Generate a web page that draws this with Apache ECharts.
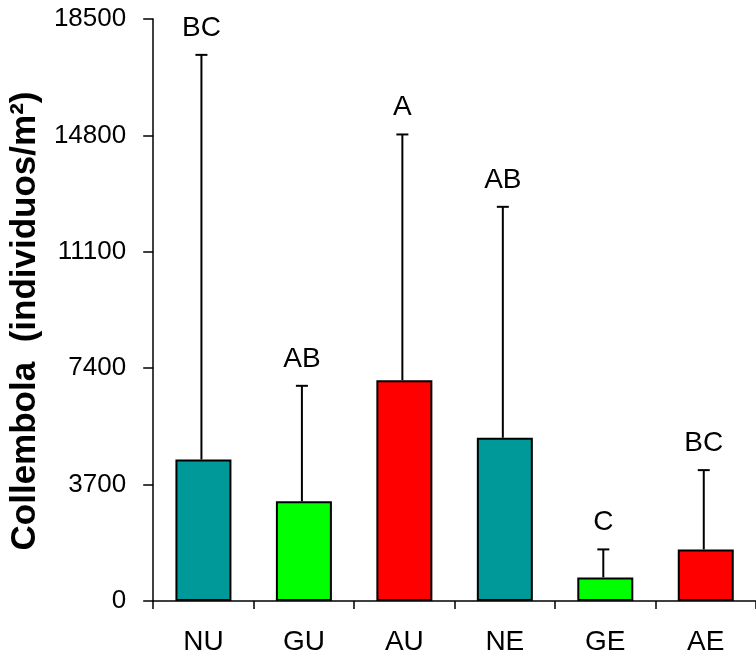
<!DOCTYPE html>
<html>
<head>
<meta charset="utf-8">
<script src="https://cdn.jsdelivr.net/npm/echarts@6/dist/echarts.min.js"></script>
<style>
  html, body { margin: 0; padding: 0; background: #fff; }
  #chart { width: 756px; height: 659px; }
</style>
</head>
<body>
<div id="chart"></div>
<script>
// categorias y valores
var categories = ['NU', 'GU', 'AU', 'NE', 'GE', 'AE'];
var means = [4500, 3170, 7020, 5190, 750, 1640];
var errTops = [17360, 6840, 14830, 12530, 1640, 4160];
var letters = ['BC', 'AB', 'A', 'AB', 'C', 'BC'];
var barColors = ['#009999', '#00FF00', '#FF0000', '#009999', '#00FF00', '#FF0000'];
var yTicks = [0, 3700, 7400, 11100, 14800, 18500];

var myChart = echarts.init(document.getElementById('chart'));
var font = '"Liberation Sans", Arial, sans-serif';

var option = {
    animation: false,
    grid: {
        left: 153,
        right: -9,
        top: 19,
        bottom: 58
    },
    xAxis: {
        type: 'category',
        data: categories,
        axisLine: { lineStyle: { color: '#000', width: 1.5 } },
        axisTick: { show: true, length: 8, lineStyle: { color: '#000', width: 1.5 } },
        axisLabel: { color: '#000', fontSize: 28, fontFamily: font, margin: 27 }
    },
    yAxis: {
        type: 'value',
        min: yTicks[0],
        max: yTicks[yTicks.length - 1],
        interval: 3700,
        name: 'Collembola  (individuos/m²)',
        nameLocation: 'middle',
        nameGap: 100,
        nameTextStyle: { color: '#000', fontSize: 35, fontWeight: 'bold', fontFamily: font, padding: [0, 0, 0, -22] },
        splitLine: { show: false },
        axisLine: { show: true, lineStyle: { color: '#000', width: 1.5 } },
        axisTick: { show: true, inside: false, length: 10, lineStyle: { color: '#000', width: 1.5 } },
        axisLabel: {
            color: '#000', fontSize: 26, fontFamily: font, margin: 27,
            formatter: function (v) { return String(v); }
        }
    },
    series: [
        {
            type: 'bar',
            barWidth: 56,
            data: means.map(function (v, i) {
                return { value: v, itemStyle: { color: barColors[i] } };
            }),
            itemStyle: { borderColor: '#000', borderWidth: 2 },
            z: 2
        },
        {
            type: 'custom',
            z: 3,
            data: categories.map(function (c, i) { return [i, means[i], errTops[i]]; }),
            renderItem: function (params, api) {
                var base = api.coord([api.value(0), api.value(1)]);
                var top = api.coord([api.value(0), api.value(2)]);
                var x = base[0] - 2;
                var capHalf = 6;
                var style = { stroke: '#000', lineWidth: 2 };
                return {
                    type: 'group',
                    children: [
                        { type: 'line', shape: { x1: x, y1: base[1], x2: x, y2: top[1] }, style: style },
                        { type: 'line', shape: { x1: x - capHalf, y1: top[1], x2: x + capHalf, y2: top[1] }, style: style },
                        {
                            type: 'text',
                            style: {
                                x: x,
                                y: top[1] - 13,
                                text: letters[params.dataIndex],
                                fill: '#000',
                                font: '28px ' + font,
                                textAlign: 'center',
                                textVerticalAlign: 'bottom'
                            }
                        }
                    ]
                };
            }
        }
    ]
};

myChart.setOption(option);
</script>
</body>
</html>
